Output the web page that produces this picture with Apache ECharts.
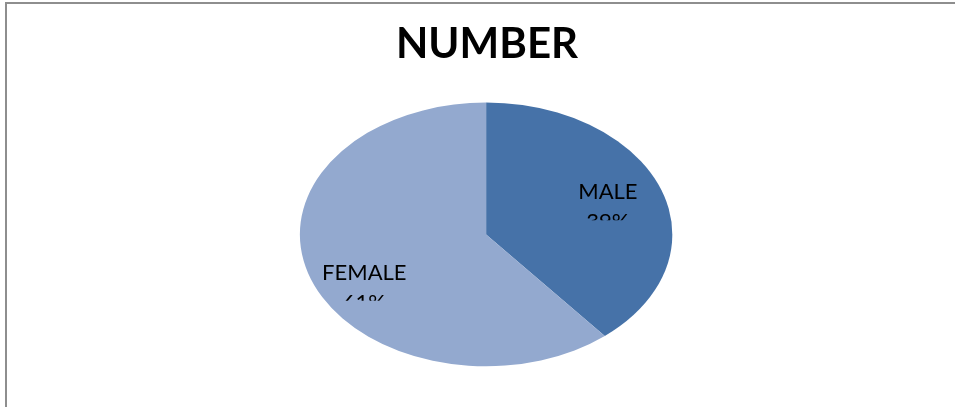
<!DOCTYPE html>
<html>
<head>
<meta charset="utf-8">
<script src="https://cdn.jsdelivr.net/npm/echarts@6/dist/echarts.min.js"></script>
<style>
  html, body { margin: 0; padding: 0; background: #fff; overflow: hidden; }
  .frame {
    position: absolute;
    left: 5px;
    top: 2px;
    width: 1200px;
    height: 600px;
    border-top: 2px solid #8e8e8e;
    border-left: 2px solid #8e8e8e;
  }
  #chart { position: absolute; left: 0; top: 0; width: 955px; height: 407px; }
</style>
</head>
<body>
<div class="frame"></div>
<div id="chart"></div>
<script>
// data
const titleText = "NUMBER";
const genders = ["MALE", "FEMALE"];
const counts = [39, 61];
const sliceColors = ["#4672a8", "#93a9cf"];

const total = counts.reduce((a, b) => a + b, 0);

const chart = echarts.init(document.getElementById("chart"));

// the original pie is drawn flattened, so each slice is a sector squeezed vertically
function renderSlice(params, api) {
  const w = api.getWidth();
  const h = api.getHeight();
  const cx = w * 0.509;
  const cy = h * 0.576;
  const rx = w * 0.195;
  const flat = 0.708;
  const ry = rx * flat;

  const i = params.dataIndex;
  let before = 0;
  for (let k = 0; k < i; k++) before += counts[k];
  const v = api.value(0);
  const a0 = -Math.PI / 2 + (2 * Math.PI * before) / total;
  const a1 = a0 + (2 * Math.PI * v) / total;
  const mid = (a0 + a1) / 2;

  // label spot inside the slice
  const lx = cx + 0.695 * rx * Math.cos(mid);
  const ly = cy + 0.9 * ry * Math.sin(mid) - 2;
  const pct = Math.round((v / total) * 100) + "%";

  return {
    type: "group",
    children: [
      {
        type: "sector",
        x: cx,
        y: cy,
        scaleY: flat,
        shape: { cx: 0, cy: 0, r0: 0, r: rx, startAngle: a0, endAngle: a1, clockwise: true },
        style: { fill: sliceColors[i] }
      },
      {
        type: "text",
        x: lx,
        y: ly,
        style: {
          text: genders[i],
          fill: "#000",
          font: "22px Lato",
          align: "center",
          verticalAlign: "middle"
        }
      },
      {
        type: "text",
        x: lx,
        y: ly + 30,
        // label box is cut off like in the original
        clipPath: { type: "rect", shape: { x: -40, y: -20, width: 80, height: 18 } },
        style: {
          text: pct,
          fill: "#000",
          font: "22px Lato",
          align: "center",
          verticalAlign: "middle"
        }
      }
    ]
  };
}

chart.setOption({
  animation: false,
  title: {
    text: titleText,
    left: 391,
    top: 18,
    textStyle: {
      fontFamily: "Lato",
      fontWeight: "bold",
      fontSize: 42,
      color: "#000"
    }
  },
  series: [
    {
      type: "custom",
      coordinateSystem: "none",
      renderItem: renderSlice,
      data: counts.map((c, i) => ({ name: genders[i], value: [c] }))
    }
  ]
});
</script>
</body>
</html>
